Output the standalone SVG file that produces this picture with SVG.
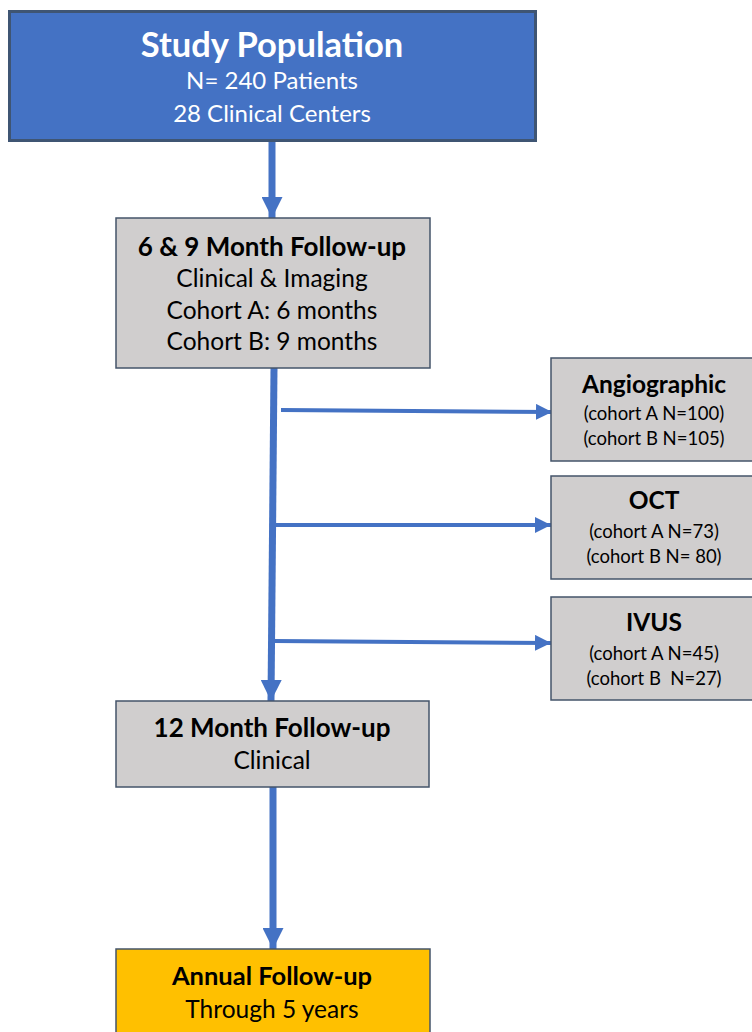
<svg xmlns="http://www.w3.org/2000/svg" width="752" height="1032" viewBox="0 0 752 1032">
<style>
text{font-family:Lato,"Open Sans","Liberation Sans",sans-serif;text-anchor:middle;fill:#000}
.b{font-weight:bold}
.w{fill:#fff}
.gray{fill:#D0CECE;stroke:#44546A;stroke-width:1.5}
.conn{stroke:#4472C4;fill:none}
</style>
<defs>
<marker id="ah" viewBox="0 0 10 10" refX="10" refY="5" markerWidth="3" markerHeight="3" orient="auto" markerUnits="strokeWidth">
<path d="M0,0 L10,5 L0,10 Z" fill="#4472C4"/>
</marker>
<marker id="ahs" viewBox="0 0 10 10" refX="10" refY="5" markerWidth="4" markerHeight="4" orient="auto" markerUnits="strokeWidth">
<path d="M0,0 L10,5 L0,10 Z" fill="#4472C4"/>
</marker>
</defs>
<g id="connectors">
<line class="conn" x1="272" y1="141" x2="272" y2="218" stroke-width="7" marker-end="url(#ah)"/>
<line class="conn" x1="274" y1="368" x2="271" y2="701" stroke-width="7" marker-end="url(#ah)"/>
<line class="conn" x1="281" y1="410" x2="552" y2="412" stroke-width="4" marker-end="url(#ahs)"/>
<line class="conn" x1="274" y1="525" x2="551" y2="525" stroke-width="4" marker-end="url(#ahs)"/>
<line class="conn" x1="274" y1="641" x2="551" y2="643" stroke-width="4" marker-end="url(#ahs)"/>
<line class="conn" x1="273" y1="787" x2="273" y2="949" stroke-width="7" marker-end="url(#ah)"/>
</g>
<g id="study">
<rect x="9.5" y="11.5" width="526" height="129" fill="#4472C4" stroke="#3F5573" stroke-width="3"/>
<text class="b w" x="272" y="57" font-size="34.5">Study Population</text>
<text class="w" x="272" y="89" font-size="24">N= 240 Patients</text>
<text class="w" x="272" y="122" font-size="24">28 Clinical Centers</text>
</g>
<g id="fu69">
<rect class="gray" x="116" y="218" width="314" height="150"/>
<text class="b" x="272" y="256" font-size="26">6 &amp; 9 Month Follow-up</text>
<text x="272" y="287" font-size="24.5">Clinical &amp; Imaging</text>
<text x="272" y="319" font-size="24.5">Cohort A: 6 months</text>
<text x="272" y="350" font-size="24.5">Cohort B: 9 months</text>
</g>
<g id="angio">
<rect class="gray" x="551" y="358" width="210" height="103"/>
<text class="b" x="654" y="393" font-size="24.5">Angiographic</text>
<text x="654" y="420" font-size="18.5">(cohort A N=100)</text>
<text x="654" y="445" font-size="18.5">(cohort B N=105)</text>
</g>
<g id="oct">
<rect class="gray" x="551" y="476" width="210" height="103"/>
<text class="b" x="654" y="509" font-size="24.5">OCT</text>
<text x="654" y="538" font-size="18.5">(cohort A N=73)</text>
<text x="654" y="563" font-size="18.5">(cohort B N= 80)</text>
</g>
<g id="ivus">
<rect class="gray" x="551" y="597" width="210" height="103"/>
<text class="b" x="654" y="631" font-size="24.5">IVUS</text>
<text x="654" y="660" font-size="18.5">(cohort A N=45)</text>
<text x="654" y="685" font-size="18.5" xml:space="preserve">(cohort B  N=27)</text>
</g>
<g id="fu12">
<rect class="gray" x="116" y="701" width="313" height="86"/>
<text class="b" x="272" y="737" font-size="26">12 Month Follow-up</text>
<text x="272" y="769" font-size="24.5">Clinical</text>
</g>
<g id="annual">
<rect x="116" y="949" width="314" height="90" fill="#FFC000" stroke="#44546A" stroke-width="1.5"/>
<text class="b" x="272" y="985" font-size="25.5">Annual Follow-up</text>
<text x="272" y="1018" font-size="24.5">Through 5 years</text>
</g>
</svg>
